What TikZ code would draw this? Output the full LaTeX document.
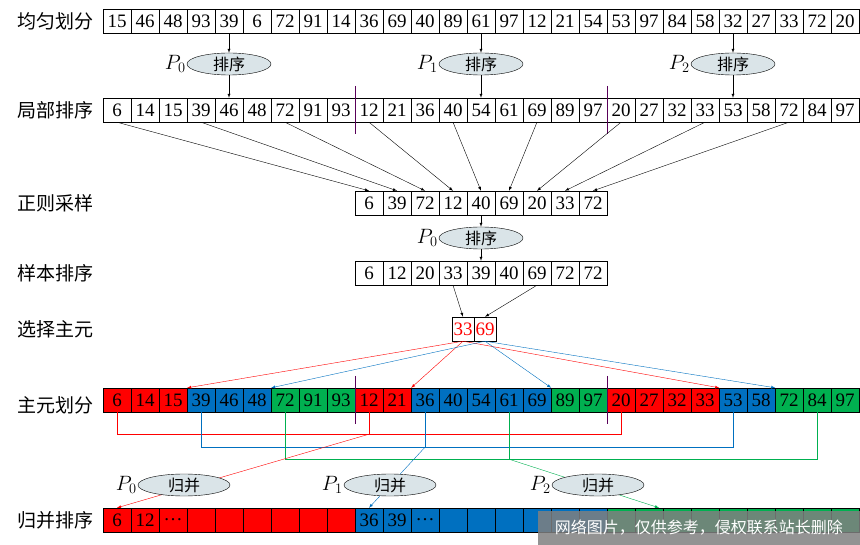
\documentclass[tikz,border=0pt]{standalone}
\usepackage{fontspec}
\setmainfont{Liberation Serif}
\newfontfamily\cjk{Noto Sans CJK SC}
\usetikzlibrary{positioning}
\usetikzlibrary{shapes.geometric}
\definecolor{rc}{RGB}{255,0,0}
\definecolor{bc}{RGB}{0,112,192}
\definecolor{gc}{RGB}{0,176,80}
\definecolor{ovalfill}{RGB}{218,228,232}
\tikzset{
  cell/.style={draw, minimum width=28, minimum height=24, inner sep=0, font=\fontsize{19}{19}\selectfont},
  lab/.style={font=\cjk\fontsize{19}{19}\selectfont},
  oval/.style={draw, ellipse, fill=ovalfill, minimum width=84, minimum height=22, inner sep=0, font=\cjk\fontsize{16}{16}\selectfont},
  pl/.style={font=\fontsize{20}{20}\selectfont, inner sep=1},
  sep/.style={violet!70!black, thin},
  >=latex
}
\begin{document}
\begin{tikzpicture}[x=1pt, y=-1pt, thin]
\useasboundingbox (0,0) rectangle (860,545);

% Row labels
\node[lab] at (55,21) {均匀划分};
\node[lab] at (55,110) {局部排序};
\node[lab] at (55,203) {正则采样};
\node[lab] at (55,273) {样本排序};
\node[lab] at (55,329) {选择主元};
\node[lab] at (55,405) {主元划分};
\node[lab] at (55,520) {归并排序};

% Input data
\foreach \v [count=\i] in {15,46,48,93,39,6,72,91,14,36,69,40,89,61,97,12,21,54,53,97,84,58,32,27,33,72,20} {
    \node[cell] (a\i) at (89+28*\i,21) {\v};
}

% Local sorted data
\foreach \v [count=\i] in {6,14,15,39,46,48,72,91,93,12,21,36,40,54,61,69,89,97,20,27,32,33,53,58,72,84,97} {
    \node[cell] (b\i) at (89+28*\i,110) {\v};
}
\draw[sep] ([yshift=12]b9.north east) -- ([yshift=-12]b9.south east);
\draw[sep] ([yshift=12]b18.north east) -- ([yshift=-12]b18.south east);

% Sorting processes
\foreach \k/\j/\x in {0/5/229,1/14/481,2/23/733} {
    \node[oval] (o\k) at (\x,64) {排序};
    \node[pl, left=0 of o\k] {$P_{\k}$};
    \draw[->] (a\j.south) -- (o\k.north);
    \draw[->] (o\k.south) -- (b\j.north);
}

% Regular samples
\foreach \v [count=\i] in {6,39,72,12,40,69,20,33,72} {
    \node[cell] (s\i) at (341+28*\i,203) {\v};
}
\foreach \j [count=\i] in {1,4,7,10,13,16,19,22,25} {
    \draw[->] (b\j.south) -- (s\i.north);
}

% Sorted samples
\node[oval] (os) at (481,238) {排序};
\node[pl, left=0 of os] {$P_0$};
\foreach \v [count=\i] in {6,12,20,33,39,40,69,72,72} {
    \node[cell] (t\i) at (341+28*\i,273) {\v};
}
\draw[->] (s5.south) -- (os.north);
\draw[->] (os.south) -- (t5.north);

% Pivots
\node[cell, minimum width=22, text=rc] (p1) at (463,329) {33};
\node[cell, minimum width=22, text=rc] (p2) at (485,329) {69};
\draw[->] (t4.south) -- (p1.north);
\draw[->] (t7.south) -- (p2.north);

% Partitioned data
\foreach \v/\c [count=\i] in {6/rc,14/rc,15/rc,39/bc,46/bc,48/bc,72/gc,91/gc,93/gc,12/rc,21/rc,36/bc,40/bc,54/bc,61/bc,69/bc,89/gc,97/gc,20/rc,27/rc,32/rc,33/rc,53/bc,58/bc,72/gc,84/gc,97/gc} {
    \node[cell, fill=\c] (q\i) at (89+28*\i,400) {\v};
}
\draw[sep] ([yshift=12]q9.north east) -- ([yshift=-12]q9.south east);
\draw[sep] ([yshift=12]q18.north east) -- ([yshift=-12]q18.south east);
\foreach \j in {3,11,22} {
    \draw[rc,->] (p1.south) -- (q\j.north east);
}
\foreach \j in {6,16,24} {
    \draw[bc,->] (p2.south) -- (q\j.north east);
}

% Merged data
\foreach \c [count=\i] in {rc,rc,rc,rc,rc,rc,rc,rc,rc,bc,bc,bc,bc,bc,bc,bc,bc,bc,gc,gc,gc,gc,gc,gc,gc,gc,gc} {
    \node[cell, fill=\c] (m\i) at (89+28*\i,520) {};
}
\node[font=\fontsize{19}{19}\selectfont] at (m1) {6};
\node[font=\fontsize{19}{19}\selectfont] at (m2) {12};
\node[font=\fontsize{19}{19}\selectfont] at (m3) {\dots};
\node[font=\fontsize{19}{19}\selectfont] at (m10) {36};
\node[font=\fontsize{19}{19}\selectfont] at (m11) {39};
\node[font=\fontsize{19}{19}\selectfont] at (m12) {\dots};

% Gathering partitions
\draw[rc] (q1.south) -- ++(0,22) -| (q19.south);
\draw[rc] (q10.south) -- ++(0,22) coordinate (r0);
\draw[bc] (q4.south) -- ++(0,35) -| (q23.south);
\draw[bc] (q12.south) -- ++(0,35) coordinate (r1);
\draw[gc] (q7.south) -- ++(0,47) -| (q26.south);
\draw[gc] (q15.south) -- ++(0,47) coordinate (r2);
\draw[rc,->] (r0) -- (m1.north);
\draw[bc,->] (r1) -- (m10.north);
\draw[gc,->] (r2) -- ([xshift=10]m20.north);

% Merging processes
\foreach \k/\x in {0/184,1/390,2/598} {
    \node[oval, minimum width=92] (g\k) at (\x,485) {归并};
    \node[pl, left=0 of g\k] {$P_{\k}$};
}

% Watermark
\node[fill=black!50, fill opacity=0.85, text opacity=1, text=white, minimum width=322, minimum height=34, anchor=south east, font=\cjk\fontsize{16}{16}\selectfont] (wm) at (860,545) {网络图片，仅供参考，侵权联系站长删除};
\end{tikzpicture}
\end{document}
